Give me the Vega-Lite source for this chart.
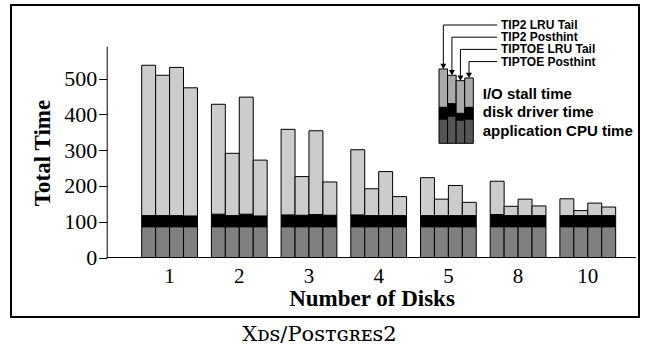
{
  "$schema": "https://vega.github.io/schema/vega-lite/v6.json",
  "width": 628,
  "height": 312,
  "autosize": {"type": "none"},
  "padding": {"left": 11, "top": 5, "right": 7, "bottom": 29},
  "background": "#ffffff",
  "title": {"text": "Xᴅꜱ/Pᴏꜱᴛɢʀᴇꜱ2", "orient": "bottom", "anchor": "middle", "font": "DejaVu Serif", "fontSize": 21, "fontWeight": "normal", "color": "#000", "offset": 7, "dx": -5.5},
  "config": {
    "view": {"stroke": "#000", "strokeWidth": 2},
    "axis": {"labelColor": "#000", "titleColor": "#000", "tickColor": "#000", "domainColor": "#000", "grid": false}
  },
  "resolve": {"scale": {"x": "independent", "y": "independent", "color": "independent"}},
  "layer": [
    {
      "data": {"values": [
        {"disks": "1", "series": "TIP2 LRU Tail", "cpu": 86, "driver": 31, "stall": 420},
        {"disks": "1", "series": "TIP2 Posthint", "cpu": 86, "driver": 31, "stall": 392},
        {"disks": "1", "series": "TIPTOE LRU Tail", "cpu": 86, "driver": 31, "stall": 414},
        {"disks": "1", "series": "TIPTOE Posthint", "cpu": 86, "driver": 30, "stall": 358},
        {"disks": "2", "series": "TIP2 LRU Tail", "cpu": 86, "driver": 35, "stall": 307},
        {"disks": "2", "series": "TIP2 Posthint", "cpu": 86, "driver": 31, "stall": 174},
        {"disks": "2", "series": "TIPTOE LRU Tail", "cpu": 86, "driver": 35, "stall": 327},
        {"disks": "2", "series": "TIPTOE Posthint", "cpu": 86, "driver": 30, "stall": 156},
        {"disks": "3", "series": "TIP2 LRU Tail", "cpu": 86, "driver": 33, "stall": 239},
        {"disks": "3", "series": "TIP2 Posthint", "cpu": 86, "driver": 32, "stall": 108},
        {"disks": "3", "series": "TIPTOE LRU Tail", "cpu": 86, "driver": 34, "stall": 234},
        {"disks": "3", "series": "TIPTOE Posthint", "cpu": 86, "driver": 32, "stall": 93},
        {"disks": "4", "series": "TIP2 LRU Tail", "cpu": 86, "driver": 33, "stall": 182},
        {"disks": "4", "series": "TIP2 Posthint", "cpu": 86, "driver": 31, "stall": 75},
        {"disks": "4", "series": "TIPTOE LRU Tail", "cpu": 86, "driver": 31, "stall": 123},
        {"disks": "4", "series": "TIPTOE Posthint", "cpu": 86, "driver": 31, "stall": 53},
        {"disks": "5", "series": "TIP2 LRU Tail", "cpu": 86, "driver": 31, "stall": 106},
        {"disks": "5", "series": "TIP2 Posthint", "cpu": 86, "driver": 31, "stall": 46},
        {"disks": "5", "series": "TIPTOE LRU Tail", "cpu": 86, "driver": 31, "stall": 84},
        {"disks": "5", "series": "TIPTOE Posthint", "cpu": 86, "driver": 31, "stall": 37},
        {"disks": "8", "series": "TIP2 LRU Tail", "cpu": 86, "driver": 34, "stall": 93},
        {"disks": "8", "series": "TIP2 Posthint", "cpu": 86, "driver": 31, "stall": 26},
        {"disks": "8", "series": "TIPTOE LRU Tail", "cpu": 86, "driver": 31, "stall": 46},
        {"disks": "8", "series": "TIPTOE Posthint", "cpu": 86, "driver": 31, "stall": 27},
        {"disks": "10", "series": "TIP2 LRU Tail", "cpu": 86, "driver": 31, "stall": 47},
        {"disks": "10", "series": "TIP2 Posthint", "cpu": 86, "driver": 31, "stall": 14},
        {"disks": "10", "series": "TIPTOE LRU Tail", "cpu": 86, "driver": 31, "stall": 35},
        {"disks": "10", "series": "TIPTOE Posthint", "cpu": 86, "driver": 31, "stall": 24}
      ]},
      "transform": [{"fold": ["cpu", "driver", "stall"], "as": ["component", "value"]}],
      "mark": {"type": "bar", "stroke": "#000", "strokeWidth": 1},
      "encoding": {
        "x": {"field": "disks", "type": "ordinal", "sort": ["1", "2", "3", "4", "5", "8", "10"],
          "scale": {"range": [130.7, 604.66], "paddingInner": 0.2, "paddingOuter": 0},
          "axis": {"orient": "bottom", "offset": -59.5, "domain": false, "ticks": false, "tickSize": 0, "labelAngle": 0,
            "labelFont": "Liberation Serif", "labelFontSize": 21, "labelPadding": 7.5,
            "title": "Number of Disks", "titleFont": "Liberation Serif", "titleFontSize": 23, "titleFontWeight": "bold",
            "titleX": 360.5, "titleY": 47.5, "titleBaseline": "alphabetic", "titleAlign": "center"}},
        "xOffset": {"field": "series", "type": "nominal", "sort": ["TIP2 LRU Tail", "TIP2 Posthint", "TIPTOE LRU Tail", "TIPTOE Posthint"],
          "scale": {"paddingInner": 0, "paddingOuter": 0}},
        "y": {"field": "value", "type": "quantitative", "stack": "zero",
          "scale": {"domain": [0, 590], "range": [252.5, 41.28], "nice": false, "zero": false},
          "axis": {"orient": "left", "offset": -95.7, "values": [0, 100, 200, 300, 400, 500], "tickSize": 8, "domain": true,
            "labelFont": "Liberation Serif", "labelFontSize": 22, "labelPadding": 2,
            "title": "Total Time", "titleFont": "Liberation Serif", "titleFontSize": 23, "titleFontWeight": "bold",
            "titleAngle": -90, "titleX": -57, "titleY": 147.5, "titleBaseline": "alphabetic", "titleAlign": "center"}},
        "color": {"field": "component", "type": "nominal",
          "scale": {"domain": ["cpu", "driver", "stall"], "range": ["#808080", "#000000", "#cccccc"]}, "legend": null},
        "order": {"field": "component", "type": "nominal"}
      }
    },
    {
      "data": {"values": [
        {"series": "TIP2 LRU Tail", "cpu": 67.9, "driver": 32.7, "stall": 107},
        {"series": "TIP2 Posthint", "cpu": 76.3, "driver": 34.4, "stall": 79.3},
        {"series": "TIPTOE LRU Tail", "cpu": 65.1, "driver": 18.7, "stall": 91.1},
        {"series": "TIPTOE Posthint", "cpu": 67.9, "driver": 32.7, "stall": 81.8}
      ]},
      "transform": [{"fold": ["cpu", "driver", "stall"], "as": ["component", "value"]}],
      "mark": {"type": "bar", "stroke": "#000", "strokeWidth": 1},
      "encoding": {
        "x": {"field": "series", "type": "nominal", "sort": ["TIP2 LRU Tail", "TIP2 Posthint", "TIPTOE LRU Tail", "TIPTOE Posthint"],
          "scale": {"range": [428, 462.3], "paddingInner": 0, "paddingOuter": 0}, "axis": null},
        "y": {"field": "value", "type": "quantitative", "stack": "zero",
          "scale": {"domain": [0, 280], "range": [138.3, 38.06], "nice": false, "zero": false}, "axis": null},
        "color": {"field": "component", "type": "nominal",
          "scale": {"domain": ["cpu", "driver", "stall"], "range": ["#555555", "#000000", "#aaaaaa"]}, "legend": null},
        "order": {"field": "component", "type": "nominal"}
      }
    },
    {
      "data": {"values": [{}]},
      "layer": [
        {"mark": {"type": "rule", "color": "#000", "strokeWidth": 1},
         "encoding": {
           "x": {"datum": 0, "type": "quantitative", "scale": {"domain": [0, 100], "range": [95.7, 625], "nice": false, "zero": false}, "axis": null},
           "x2": {"datum": 100},
           "y": {"datum": 0, "type": "quantitative", "scale": {"domain": [0, 590], "range": [252.5, 41.28], "nice": false, "zero": false},
             "axis": {"orient": "left", "offset": -95.7, "values": [0,10,20,30,40,50,60,70,80,90,100,110,120,130,140,150,160,170,180,190,200,210,220,230,240,250,260,270,280,290,300,310,320,330,340,350,360,370,380,390,400,410,420,430,440,450,460,470,480,490,500,510,520,530,540,550,560,570,580,590],
               "tickSize": 5, "labels": false, "domain": false, "title": null, "grid": false}}
         }},
        {"mark": {"type": "text", "text": ["TIP2 LRU Tail", "TIP2 Posthint", "TIPTOE LRU Tail", "TIPTOE Posthint"], "align": "left", "baseline": "middle", "lineHeight": 12.2, "font": "Liberation Sans", "fontWeight": "bold", "fontSize": 12, "color": "#000"},
         "encoding": {"x": {"datum": 74.5, "type": "quantitative", "axis": null}, "y": {"datum": 649.4, "type": "quantitative", "axis": null}}},
        {"mark": {"type": "text", "text": ["I/O stall time", "disk driver time", "application CPU time"], "align": "left", "baseline": "middle", "lineHeight": 18.3, "font": "Liberation Sans", "fontWeight": "bold", "fontSize": 15, "color": "#000"},
         "encoding": {"x": {"datum": 71.04, "type": "quantitative", "axis": null}, "y": {"datum": 456.7, "type": "quantitative", "axis": null}}},
        {"mark": {"type": "rule", "color": "#000", "strokeWidth": 1},
         "encoding": {"x": {"datum": 63.6, "type": "quantitative", "axis": null}, "x2": {"datum": 73.74}, "y": {"datum": 649.4, "type": "quantitative", "axis": null}}},
        {"mark": {"type": "rule", "color": "#000", "strokeWidth": 1},
         "encoding": {"x": {"datum": 65.22, "type": "quantitative", "axis": null}, "x2": {"datum": 73.74}, "y": {"datum": 615.4, "type": "quantitative", "axis": null}}},
        {"mark": {"type": "rule", "color": "#000", "strokeWidth": 1},
         "encoding": {"x": {"datum": 66.83, "type": "quantitative", "axis": null}, "x2": {"datum": 73.74}, "y": {"datum": 581.3, "type": "quantitative", "axis": null}}},
        {"mark": {"type": "rule", "color": "#000", "strokeWidth": 1},
         "encoding": {"x": {"datum": 68.45, "type": "quantitative", "axis": null}, "x2": {"datum": 73.74}, "y": {"datum": 547.2, "type": "quantitative", "axis": null}}},
        {"mark": {"type": "rule", "color": "#000", "strokeWidth": 1},
         "encoding": {"x": {"datum": 63.6, "type": "quantitative", "axis": null}, "y": {"datum": 649.4, "type": "quantitative", "axis": null}, "y2": {"datum": 540.5}}},
        {"mark": {"type": "rule", "color": "#000", "strokeWidth": 1},
         "encoding": {"x": {"datum": 65.22, "type": "quantitative", "axis": null}, "y": {"datum": 615.4, "type": "quantitative", "axis": null}, "y2": {"datum": 522.9}}},
        {"mark": {"type": "rule", "color": "#000", "strokeWidth": 1},
         "encoding": {"x": {"datum": 66.83, "type": "quantitative", "axis": null}, "y": {"datum": 581.3, "type": "quantitative", "axis": null}, "y2": {"datum": 507.9}}},
        {"mark": {"type": "rule", "color": "#000", "strokeWidth": 1},
         "encoding": {"x": {"datum": 68.45, "type": "quantitative", "axis": null}, "y": {"datum": 547.2, "type": "quantitative", "axis": null}, "y2": {"datum": 515.4}}},
        {"mark": {"type": "point", "shape": "triangle-down", "filled": true, "color": "#000", "size": 36, "opacity": 1},
         "encoding": {"x": {"datum": 63.6, "type": "quantitative", "axis": null}, "y": {"datum": 533.8, "type": "quantitative", "axis": null}}},
        {"mark": {"type": "point", "shape": "triangle-down", "filled": true, "color": "#000", "size": 36, "opacity": 1},
         "encoding": {"x": {"datum": 65.22, "type": "quantitative", "axis": null}, "y": {"datum": 516.2, "type": "quantitative", "axis": null}}},
        {"mark": {"type": "point", "shape": "triangle-down", "filled": true, "color": "#000", "size": 36, "opacity": 1},
         "encoding": {"x": {"datum": 66.83, "type": "quantitative", "axis": null}, "y": {"datum": 501.2, "type": "quantitative", "axis": null}}},
        {"mark": {"type": "point", "shape": "triangle-down", "filled": true, "color": "#000", "size": 36, "opacity": 1},
         "encoding": {"x": {"datum": 68.45, "type": "quantitative", "axis": null}, "y": {"datum": 508.7, "type": "quantitative", "axis": null}}}
      ]
    }
  ]
}
